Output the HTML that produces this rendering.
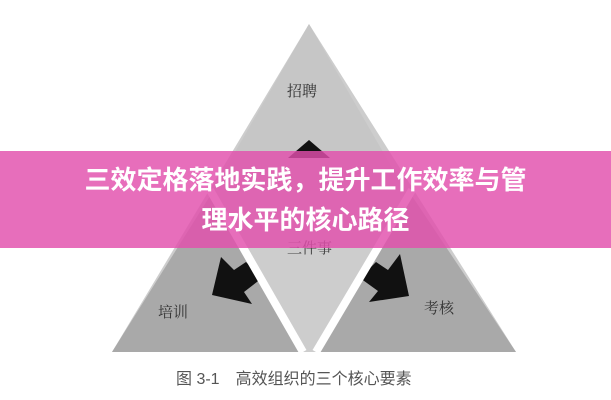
<!DOCTYPE html>
<html><head><meta charset="utf-8"><style>
body{margin:0;width:611px;height:400px;background:#fff;overflow:hidden;position:relative;font-family:"Liberation Sans","Noto Sans CJK SC",sans-serif}
svg{position:absolute;left:0;top:0}
.band{position:absolute;left:0;top:151px;width:611px;height:97px;background:rgba(226,78,172,0.82)}
.t{position:absolute;left:0;width:611px;text-align:center;color:#fff;font-weight:bold;font-size:26px;line-height:40px}
</style></head><body>
<svg width="611" height="400">
<polygon points="309,24 112,352 516,352" fill="#cdcdcd"/>
<polygon points="309,24 405,190 213,190" fill="#c6c6c6"/>
<polygon points="210,196 300,352 112,352" fill="#a9a9a9"/>
<polygon points="412,196 516,352 320,352" fill="#a9a9a9"/>
<polygon points="221,257 212,295 252,304 244,292 262,278 246,262 234,270" fill="#111"/>
<polygon points="400,254 409,296 369,302 378,291 360,278 376,262 388,270" fill="#111"/>
<line x1="210" y1="190" x2="303" y2="352" stroke="#fff" stroke-width="8"/>
<line x1="412" y1="190" x2="316" y2="352" stroke="#fff" stroke-width="8"/>
<polygon points="309,140 330,158 288,158" fill="#111"/>
<text x="287" y="96" font-size="15" fill="#333" font-family="Noto Serif CJK SC,serif">招聘</text>
<text x="287" y="253" font-size="15" fill="#444" font-family="Noto Serif CJK SC,serif">三件事</text>
<text x="158" y="317" font-size="15" fill="#333" font-family="Noto Serif CJK SC,serif">培训</text>
<text x="424" y="313" font-size="15" fill="#333" font-family="Noto Serif CJK SC,serif">考核</text>
<text x="176" y="384" font-size="16" fill="#555">图 3-1　高效组织的三个核心要素</text>
</svg>
<div class="band"></div>
<div class="t" style="top:160px">三效定格落地实践，提升工作效率与管</div>
<div class="t" style="top:200px">理水平的核心路径</div>
</body></html>
